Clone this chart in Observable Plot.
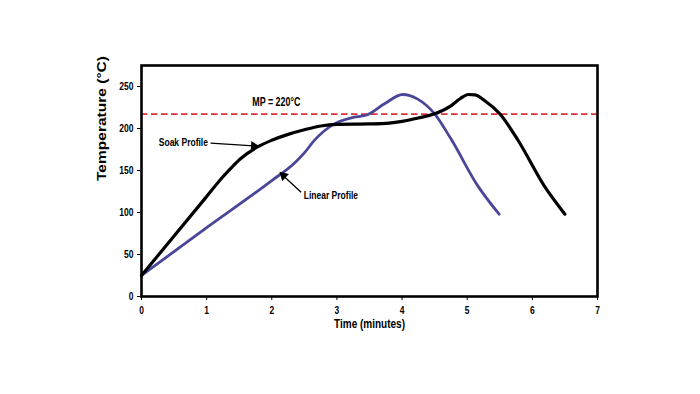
<!DOCTYPE html>
<html>
<head>
<meta charset="utf-8">
<script src="https://cdn.jsdelivr.net/npm/d3@7"></script>
<script src="https://cdn.jsdelivr.net/npm/@observablehq/plot@0.6"></script>
<style>
  html, body { margin: 0; padding: 0; background: #fff; }
  #chart svg { display: block; }
</style>
</head>
<body>
<div id="chart"></div>
<script>
// Soak profile (black): time (min), temperature (°C)
const soakTime = [0, 0.5, 1.0, 1.25, 1.4, 1.52, 1.78, 2.0, 2.25, 2.5, 2.75, 3.0, 3.5, 3.8, 4.0, 4.25, 4.5, 4.75, 4.9, 5.02, 5.12, 5.27, 5.5, 5.78, 6.18, 6.5];
const soakTemp = [25, 72, 119, 142.5, 155, 164, 178, 186, 193, 198.5, 203, 205, 205.5, 206.5, 208.5, 212.5, 217.5, 227, 236, 240.5, 240, 233, 217.5, 186, 132, 98];
// Linear profile (blue)
const linTime = [0, 1.0, 2.0, 2.35, 2.5, 2.65, 2.96, 3.22, 3.47, 3.73, 4.01, 4.24, 4.5, 4.75, 5.16, 5.49];
const linTemp = [25, 82, 138, 159, 171, 185.5, 205.5, 212.7, 216.3, 229.4, 240.5, 235, 217.5, 187.7, 132, 98];
// Melting point reference line
const mpValue = 217;
const mpLabel = "MP = 220°C";
const xTicks = [0, 1, 2, 3, 4, 5, 6, 7];
const yTicks = [0, 50, 100, 150, 200, 250];
const annotLabels = ["Soak Profile", "Linear Profile"];
const annotTextX = [1.02, 2.49];
const annotTextY = [184, 120];
const arrowFromX = [1.06, 2.45];
const arrowFromY = [182.5, 124];
const arrowToX = [1.72, 2.18];
const arrowToY = [179.2, 143.5];
const headX = [1.725, 2.18];
const headY = [179.2, 143.8];
const headAngle = [93.5, -46.7];

const soak = soakTime.map((t, i) => ({t, v: soakTemp[i]}));
const lin = linTime.map((t, i) => ({t, v: linTemp[i]}));
const annotations = annotLabels.map((label, i) => ({
  label, x: annotTextX[i], y: annotTextY[i],
  x1: arrowFromX[i], y1: arrowFromY[i], x2: arrowToX[i], y2: arrowToY[i],
  hx: headX[i], hy: headY[i], angle: headAngle[i],
  anchor: i === 0 ? "end" : "start"
}));
const font = "'Liberation Sans', Arial, Helvetica, sans-serif";

const chart = Plot.plot({
  width: 700,
  height: 394,
  marginLeft: 141,
  marginRight: 103,
  marginTop: 65,
  marginBottom: 98,
  style: {fontFamily: font, fontWeight: "bold", fontSize: "11px", background: "#fff", color: "#000"},
  x: {domain: [0, 7], label: null},
  y: {domain: [0, 275], label: null},
  marks: [
    Plot.ruleY([mpValue], {stroke: "#d8323a", strokeWidth: 1.7, strokeDasharray: "6.5,3.5"}),
    Plot.text([mpLabel], {x: 2.07, y: 231, text: d => d, fontSize: 12, fontWeight: "bold"}),
    Plot.line(lin, {x: "t", y: "v", stroke: "#4a4799", strokeWidth: 2.8, curve: "monotone-x"}),
    Plot.line(soak, {x: "t", y: "v", stroke: "#000", strokeWidth: 3.2, curve: "monotone-x"}),
    Plot.link(annotations, {x1: "x1", y1: "y1", x2: "x2", y2: "y2", stroke: "#000", strokeWidth: 1.3}),
    Plot.dot(annotations, {x: "hx", y: "hy", rotate: "angle", symbol: "triangle", r: 3.6, fill: "#000", stroke: "none"}),
    Plot.text(annotations, {filter: d => d.anchor === "end", x: "x", y: "y", text: "label", textAnchor: "end", fontSize: 11.5, fontWeight: "bold"}),
    Plot.text(annotations, {filter: d => d.anchor === "start", x: "x", y: "y", text: "label", textAnchor: "start", fontSize: 11.5, fontWeight: "bold"}),
    Plot.axisX({ticks: xTicks, tickFormat: "d", tickSize: 4, tickPadding: 5, label: null, fontSize: 11.5}),
    Plot.axisY({ticks: yTicks, tickFormat: "d", tickSize: 4, tickPadding: 4, label: null, fontSize: 11.5}),
    Plot.frame({stroke: "#000", strokeWidth: 2.6}),
    Plot.text(["Time (minutes)"], {frameAnchor: "bottom", dy: 31, text: d => d, fontSize: 13.5, fontWeight: "bold"}),
    Plot.text(["Temperature (°C)"], {frameAnchor: "left", dx: -40, rotate: -90, text: d => d, fontSize: 12.5, fontWeight: "bold"})
  ]
});
document.getElementById("chart").appendChild(chart);

// Condense the lettering (the reference uses a condensed bold face),
// keeping each text's anchor where Plot put it.
chart.querySelectorAll("text").forEach(t => {
  const len = t.getComputedTextLength();
  if (!(len > 0)) return;
  const b0 = t.getBBox();
  const anchor = getComputedStyle(t).textAnchor;
  const isVertical = /rotate\(-90\)/.test(t.getAttribute("transform") || "");
  const target = isVertical ? 125 : len * 0.74;
  t.setAttribute("textLength", target.toFixed(1));
  t.setAttribute("lengthAdjust", "spacingAndGlyphs");
  const b1 = t.getBBox();
  let shift;
  if (anchor === "start") shift = b0.x - b1.x;
  else if (anchor === "end") shift = (b0.x + b0.width) - (b1.x + b1.width);
  else shift = (b0.x + b0.width / 2) - (b1.x + b1.width / 2);
  if (Math.abs(shift) > 0.1) t.setAttribute("dx", shift.toFixed(1));
});
</script>
</body>
</html>
